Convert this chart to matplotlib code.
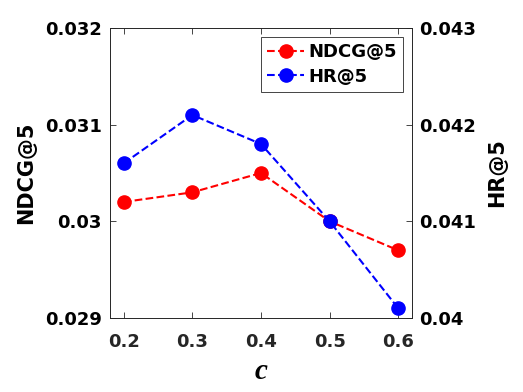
import numpy as np
import matplotlib
matplotlib.use("Agg")
import matplotlib.pyplot as plt

# data
c_vals = [0.2, 0.3, 0.4, 0.5, 0.6]
ndcg5 = [0.0302, 0.0303, 0.0305, 0.0300, 0.0297]
hr5 = [0.0416, 0.0421, 0.0418, 0.0410, 0.0401]
x_ticks = [0.2, 0.3, 0.4, 0.5, 0.6]
left_ticks = [0.029, 0.030, 0.031, 0.032]
left_labels = ["0.029", "0.03", "0.031", "0.032"]
right_ticks = [0.040, 0.041, 0.042, 0.043]
right_labels = ["0.04", "0.041", "0.042", "0.043"]

plt.rcParams['font.family'] = ['DejaVu Sans']
plt.rcParams['font.weight'] = 'bold'

fig = plt.figure(figsize=(5.23, 3.92), dpi=100)
ax = fig.add_axes([0.2103, 0.1888, 0.5774, 0.7398])
ax2 = ax.twinx()

l1, = ax.plot(c_vals, ndcg5, 'o--', color='#ff0000', lw=1.5, ms=9.5, label='NDCG@5')
l2, = ax2.plot(c_vals, hr5, 'o--', color='#0000ff', lw=1.5, ms=9.5, label='HR@5')

ax.set_xlim(0.18, 0.62)
ax.set_ylim(0.029, 0.032)
ax2.set_ylim(0.040, 0.043)
ax.set_xticks(x_ticks)
ax.set_xticklabels([str(v) for v in x_ticks])
ax.set_yticks(left_ticks)
ax.set_yticklabels(left_labels)
ax2.set_yticks(right_ticks)
ax2.set_yticklabels(right_labels)

ax.tick_params(axis='x', direction='in', top=True, labelsize=13, labelcolor='#262626',
               color='#262626', length=4, width=0.6, pad=11)
ax.tick_params(axis='y', direction='in', labelsize=13, labelcolor='black',
               color='#262626', length=4, width=0.6, pad=6)
ax2.tick_params(axis='y', direction='in', labelsize=13, labelcolor='black',
                color='#262626', length=4, width=0.6, pad=5)
for a in (ax, ax2):
    for s in a.spines.values():
        s.set_color('#262626')
        s.set_linewidth(0.6)

ax.set_ylabel('NDCG@5', fontsize=15, fontweight='bold', labelpad=6)
ax2.set_ylabel('HR@5', fontsize=15, fontweight='bold', labelpad=8)
ax.set_xlabel('c', fontsize=21, fontweight='bold', fontstyle='italic',
              family='Liberation Serif', labelpad=5)

leg = ax.legend(handles=[l1, l2], loc='upper right', fontsize=13, fancybox=False,
                framealpha=1, edgecolor='#262626', handlelength=2.0,
                borderpad=0.35, labelspacing=0.35, handletextpad=0.25,
                borderaxespad=0.5)
leg.get_frame().set_linewidth(0.6)

fig.savefig('out.png', dpi=100)
